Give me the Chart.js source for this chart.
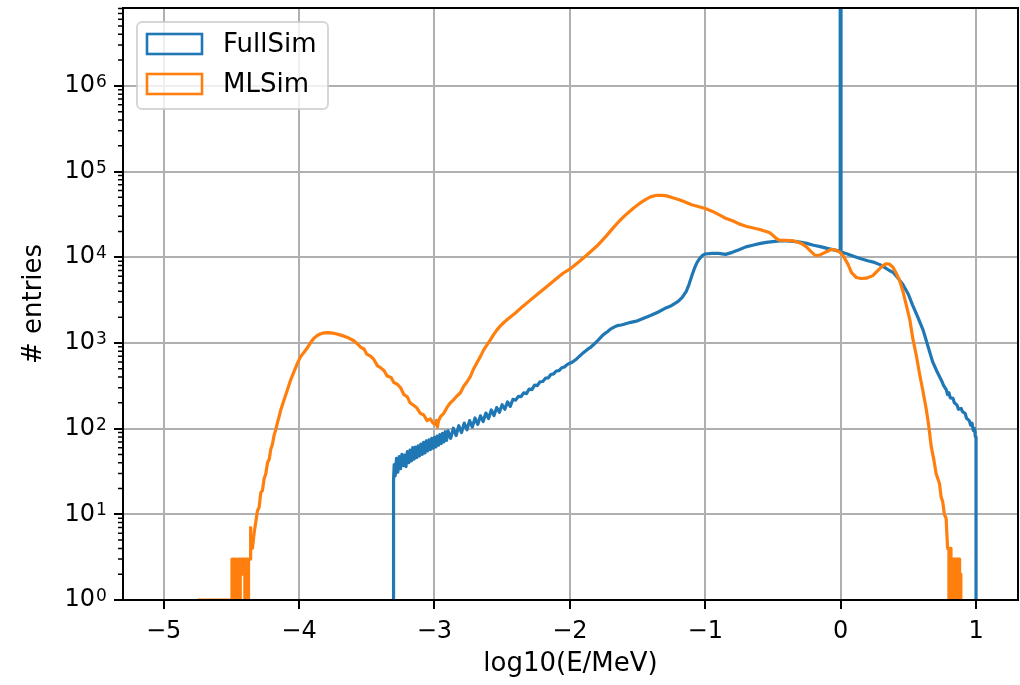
<!DOCTYPE html>
<html>
<head>
<meta charset="utf-8">
<script src="https://cdn.jsdelivr.net/npm/chart.js@4.4.1/dist/chart.umd.min.js"></script>
<style>
    body { margin: 0; background: #fff; }
    #wrap { width: 1020px; height: 685px; }
</style>
</head>
<body>
<div id="wrap"><canvas id="energyChart" width="1020" height="685"></canvas></div>
<script>
// histogram outlines: log10(E/MeV) positions and entry counts
const fullSimLogE = [
    -3.302, -3.302, -3.297, -3.29, -3.28, -3.27, -3.26, -3.25, -3.24, -3.23,
    -3.22, -3.21, -3.20, -3.19, -3.18, -3.17, -3.16, -3.15, -3.14, -3.13,
    -3.12, -3.11, -3.10, -3.09, -3.08, -3.07, -3.06, -3.05, -3.04, -3.03,
    -3.02, -3.01, -3.00, -2.99, -2.98, -2.97, -2.96, -2.95, -2.94, -2.93,
    -2.92, -2.91, -2.90, -2.88, -2.86, -2.84, -2.82, -2.80, -2.78, -2.76,
    -2.74, -2.72, -2.70, -2.68, -2.66, -2.64, -2.62, -2.60, -2.58, -2.56,
    -2.54, -2.52, -2.50, -2.48, -2.46, -2.44, -2.42, -2.40, -2.38, -2.36,
    -2.34, -2.32, -2.30, -2.28, -2.26, -2.24, -2.22, -2.20, -2.18, -2.16,
    -2.14, -2.12, -2.10, -2.08, -2.06, -2.04, -2.02, -2.00, -1.98, -1.95,
    -1.92, -1.90, -1.87, -1.85, -1.82, -1.80, -1.77, -1.75, -1.72, -1.70,
    -1.67, -1.65, -1.62, -1.60, -1.55, -1.50, -1.45, -1.40, -1.35, -1.30,
    -1.25, -1.20, -1.17, -1.14, -1.12, -1.10, -1.08, -1.06, -1.04, -1.02,
    -1.00, -0.95, -0.90, -0.85, -0.80, -0.75, -0.70, -0.65, -0.60, -0.55,
    -0.50, -0.45, -0.40, -0.35, -0.30, -0.25, -0.20, -0.15, -0.10, -0.05,
    -0.003, -0.003, 0.003, 0.003, 0.05, 0.10, 0.15, 0.20, 0.25, 0.29,
    0.33, 0.36, 0.39, 0.42, 0.46, 0.50, 0.53, 0.57, 0.61, 0.65,
    0.68, 0.71, 0.73, 0.75, 0.76, 0.78, 0.79, 0.80, 0.81, 0.83,
    0.84, 0.86, 0.87, 0.89, 0.90, 0.92, 0.93, 0.95, 0.96, 0.97,
    0.98, 0.99, 0.995, 1.0, 1.0
];
const fullSimCounts = [
    1, 25, 38, 28, 45, 31, 47, 34, 50, 37,
    49, 36, 54, 40, 56, 42, 60, 44, 61, 46,
    63, 48, 66, 50, 69, 52, 72, 55, 74, 57,
    77, 59, 79, 61, 82, 64, 85, 67, 88, 70,
    92, 73, 94, 77, 101, 83, 108, 90, 116, 97,
    124, 104, 133, 112, 141, 121, 152, 131, 165, 142,
    176, 155, 190, 168, 205, 182, 220, 215, 238, 236,
    262, 256, 290, 285, 322, 318, 352, 355, 388, 390,
    428, 435, 470, 475, 512, 525, 558, 580, 600, 650,
    720, 770, 840, 880, 970, 1040, 1170, 1260, 1360, 1450,
    1540, 1590, 1620, 1650, 1740, 1810, 1950, 2100, 2280, 2520,
    2720, 3050, 3400, 4000, 4800, 6000, 7400, 8700, 9700, 10500,
    10900, 11100, 11100, 10800, 11400, 12200, 13200, 13800, 14400, 14900,
    15200, 15500, 15500, 15300, 15000, 14500, 13800, 13300, 12700, 12200,
    11700, 10000000, 10000000, 11500, 10900, 10200, 9600, 9100, 8700, 8200,
    7500, 7000, 6600, 5800, 4800, 3700, 2800, 2000, 1400, 860,
    600, 470, 405, 350, 320, 285, 250, 262, 228, 225,
    200, 188, 168, 172, 158, 150, 132, 124, 110, 116,
    95, 100, 80, 80, 1
];

const mlSimLogE = [
    -4.75, -4.495, -4.495, -4.485, -4.485, -4.478, -4.478, -4.468, -4.468, -4.460,
    -4.460, -4.452, -4.452, -4.440, -4.440, -4.434, -4.434, -4.420, -4.420, -4.410,
    -4.410, -4.400, -4.400, -4.394, -4.394, -4.380, -4.380, -4.373, -4.373, -4.362,
    -4.362, -4.355, -4.355, -4.344, -4.332, -4.320, -4.307, -4.295, -4.282, -4.270,
    -4.258, -4.245, -4.233, -4.220, -4.209, -4.196, -4.184, -4.171, -4.159, -4.147,
    -4.135, -4.111, -4.086, -4.062, -4.037, -4.012, -3.988, -3.963, -3.938, -3.914,
    -3.890, -3.865, -3.840, -3.815, -3.791, -3.766, -3.742, -3.705, -3.668, -3.632,
    -3.595, -3.570, -3.545, -3.520, -3.500, -3.472, -3.450, -3.420, -3.398, -3.370,
    -3.349, -3.320, -3.300, -3.275, -3.250, -3.226, -3.200, -3.180, -3.152, -3.130,
    -3.103, -3.080, -3.054, -3.030, -3.010, -2.993, -2.985, -2.978, -2.970, -2.955,
    -2.931, -2.906, -2.882, -2.858, -2.834, -2.808, -2.785, -2.760, -2.735, -2.710,
    -2.685, -2.661, -2.636, -2.612, -2.587, -2.563, -2.538, -2.513, -2.489, -2.464,
    -2.400, -2.350, -2.292, -2.230, -2.169, -2.100, -2.050, -1.992, -1.930, -1.874,
    -1.800, -1.727, -1.680, -1.629, -1.580, -1.531, -1.480, -1.432, -1.400, -1.358,
    -1.320, -1.285, -1.240, -1.187, -1.140, -1.100, -1.039, -1.000, -0.950, -0.892,
    -0.850, -0.794, -0.750, -0.700, -0.660, -0.621, -0.580, -0.550, -0.523, -0.500,
    -0.470, -0.450, -0.400, -0.350, -0.327, -0.290, -0.253, -0.220, -0.190, -0.160,
    -0.130, -0.105, -0.070, -0.040, -0.007, 0.020, 0.054, 0.080, 0.116, 0.150,
    0.189, 0.238, 0.270, 0.312, 0.340, 0.361, 0.385, 0.411, 0.435, 0.460,
    0.484, 0.510, 0.533, 0.560, 0.582, 0.605, 0.632, 0.650, 0.669, 0.690,
    0.705, 0.718, 0.730, 0.742, 0.754, 0.766, 0.779, 0.790, 0.800, 0.800,
    0.806, 0.806, 0.815, 0.815, 0.820, 0.820, 0.830, 0.830, 0.835, 0.835,
    0.845, 0.845, 0.850, 0.850, 0.860, 0.860, 0.866, 0.866, 0.876, 0.876,
    0.880, 0.880, 0.888, 0.888, 0.900
];
const mlSimCounts = [
    1, 1, 3, 3, 1, 1, 3, 3, 2, 2,
    1, 1, 3, 3, 1, 1, 3, 3, 2, 2,
    3, 3, 1, 1, 3, 3, 1, 1, 3, 3,
    7, 7, 4, 4, 6, 8, 11, 12, 18, 19,
    26, 30, 40, 44, 57, 66, 84, 98, 118, 138,
    165, 216, 282, 369, 462, 577, 692, 780, 880, 1010,
    1135, 1220, 1280, 1310, 1320, 1310, 1295, 1250, 1200, 1140,
    1060, 980, 890, 850, 740, 700, 650, 540, 515, 470,
    410, 395, 345, 330, 300, 250, 235, 200, 186, 175,
    150, 145, 124, 130, 116, 112, 125, 104, 122, 138,
    151, 178, 200, 218, 240, 262, 310, 350, 405, 500,
    590, 692, 830, 950, 1084, 1250, 1420, 1580, 1720, 1862,
    2250, 2650, 3160, 3800, 4540, 5600, 6500, 7430, 8900, 10600,
    13500, 18000, 22000, 27000, 32000, 37300, 43000, 48000, 51000, 52800,
    52700, 52000, 49500, 46500, 43500, 41000, 38500, 37000, 34500, 31000,
    28500, 26500, 24500, 23000, 22200, 21500, 20700, 20000, 19300, 18000,
    16300, 15800, 15700, 15500, 15200, 14500, 13200, 11700, 10600, 10500,
    11100, 11600, 12300, 12200, 11500, 10300, 8300, 6600, 5800, 5650,
    5700, 6100, 6900, 8000, 8400, 8300, 7700, 6500, 5400, 4000,
    2800, 1900, 1130, 700, 443, 290, 170, 110, 62, 42,
    30, 26, 23, 16, 14, 10, 9, 4, 4, 1,
    1, 4, 4, 1, 1, 3, 3, 1, 1, 3,
    3, 1, 1, 3, 3, 1, 1, 3, 3, 1,
    1, 2, 2, 1, 1
];

const xTickValues = [-5, -4, -3, -2, -1, 0, 1];
const yTickValues = [1, 10, 100, 1000, 10000, 100000, 1000000];

const FONT = "'DejaVu Sans', sans-serif";

function toPoints(xs, ys) {
    return xs.map((x, i) => ({ x: x, y: ys[i] }));
}

// exponents of the y labels, minor log ticks and the black frame
const axisFrame = {
    id: "axisFrame",
    afterDraw(chart) {
        const { ctx, chartArea: a, scales: { y } } = chart;
        ctx.save();
        ctx.fillStyle = "#000";
        ctx.font = "17px " + FONT;
        ctx.textAlign = "left";
        ctx.textBaseline = "alphabetic";
        y.ticks.forEach(t => {
            const py = y.getPixelForValue(t.value);
            ctx.fillText(String(Math.round(Math.log10(t.value))), 96, py + 1);
        });
        ctx.strokeStyle = "#000";
        ctx.lineWidth = 1.5;
        ctx.beginPath();
        for (let e = 0; e < 7; e++) {
            for (let k = 2; k < 10; k++) {
                const v = k * Math.pow(10, e);
                if (v > y.max) break;
                const py = y.getPixelForValue(v);
                ctx.moveTo(a.left - 5, py);
                ctx.lineTo(a.left, py);
            }
        }
        ctx.stroke();
        ctx.lineWidth = 2;
        ctx.strokeRect(a.left, a.top, a.right - a.left, a.bottom - a.top);
        ctx.restore();
    }
};

// matplotlib-like legend inside the upper left corner
const innerLegend = {
    id: "innerLegend",
    afterDraw(chart) {
        const ctx = chart.ctx;
        const a = chart.chartArea;
        const x0 = a.left + 14, y0 = a.top + 14;
        ctx.save();
        ctx.beginPath();
        ctx.roundRect(x0, y0, 191, 87, 5);
        ctx.fillStyle = "rgba(255,255,255,0.8)";
        ctx.fill();
        ctx.strokeStyle = "rgba(204,204,204,0.8)";
        ctx.lineWidth = 2;
        ctx.stroke();
        ctx.font = "26px " + FONT;
        ctx.textBaseline = "middle";
        chart.data.datasets.forEach((ds, i) => {
            const cy = y0 + 22 + i * 40;
            ctx.strokeStyle = ds.borderColor;
            ctx.lineWidth = 2.6;
            ctx.strokeRect(x0 + 10, cy - 10, 55, 20);
            ctx.fillStyle = "#000";
            ctx.fillText(ds.label, x0 + 86, cy + 1);
        });
        ctx.restore();
    }
};

new Chart(document.getElementById("energyChart"), {
    type: "line",
    data: {
        datasets: [
            {
                label: "FullSim",
                data: toPoints(fullSimLogE, fullSimCounts),
                borderColor: "#1f77b4",
                borderWidth: 3.2,
                order: 1
            },
            {
                label: "MLSim",
                data: toPoints(mlSimLogE, mlSimCounts),
                borderColor: "#ff7f0e",
                borderWidth: 3.2,
                order: 0
            }
        ]
    },
    options: {
        responsive: false,
        animation: false,
        events: [],
        elements: {
            point: { radius: 0 },
            line: { tension: 0, fill: false, borderJoinStyle: "round" }
        },
        layout: { padding: { top: 8, right: 2, left: 0, bottom: 0 } },
        plugins: {
            legend: { display: false },
            tooltip: { enabled: false }
        },
        scales: {
            x: {
                type: "linear",
                min: -5.3,
                max: 1.31,
                afterBuildTicks: scale => {
                    scale.ticks = xTickValues.map(v => ({ value: v }));
                },
                afterFit: scale => {
                    scale.height = 85;
                    scale.paddingLeft = 0;
                    scale.paddingRight = 0;
                },
                ticks: {
                    color: "#000",
                    font: { family: FONT, size: 24 },
                    padding: 8,
                    maxRotation: 0,
                    callback: v => (v < 0 ? "\u2212" + Math.abs(v) : String(v))
                },
                grid: {
                    color: "#b0b0b0",
                    lineWidth: 2,
                    drawTicks: true,
                    tickLength: 9,
                    tickColor: "#000",
                    tickWidth: 2
                },
                border: { display: false },
                title: {
                    display: true,
                    text: "log10(E/MeV)",
                    color: "#000",
                    font: { family: FONT, size: 26 },
                    padding: { top: 0, bottom: 5 }
                }
            },
            y: {
                type: "logarithmic",
                min: 1,
                max: 8.1e6,
                afterBuildTicks: scale => {
                    scale.ticks = yTickValues.map(v => ({ value: v }));
                },
                afterFit: scale => {
                    scale.width = 123;
                    scale.paddingTop = 0;
                    scale.paddingBottom = 0;
                },
                ticks: {
                    color: "#000",
                    font: { family: FONT, size: 24 },
                    padding: 19,
                    callback: () => "10"
                },
                grid: {
                    color: "#b0b0b0",
                    lineWidth: 2,
                    drawTicks: true,
                    tickLength: 9,
                    tickColor: "#000",
                    tickWidth: 2
                },
                border: { display: false },
                title: {
                    display: true,
                    text: "# entries",
                    color: "#000",
                    font: { family: FONT, size: 26 },
                    padding: { top: 19, bottom: 0 }
                }
            }
        }
    },
    plugins: [axisFrame, innerLegend]
});
</script>
</body>
</html>
